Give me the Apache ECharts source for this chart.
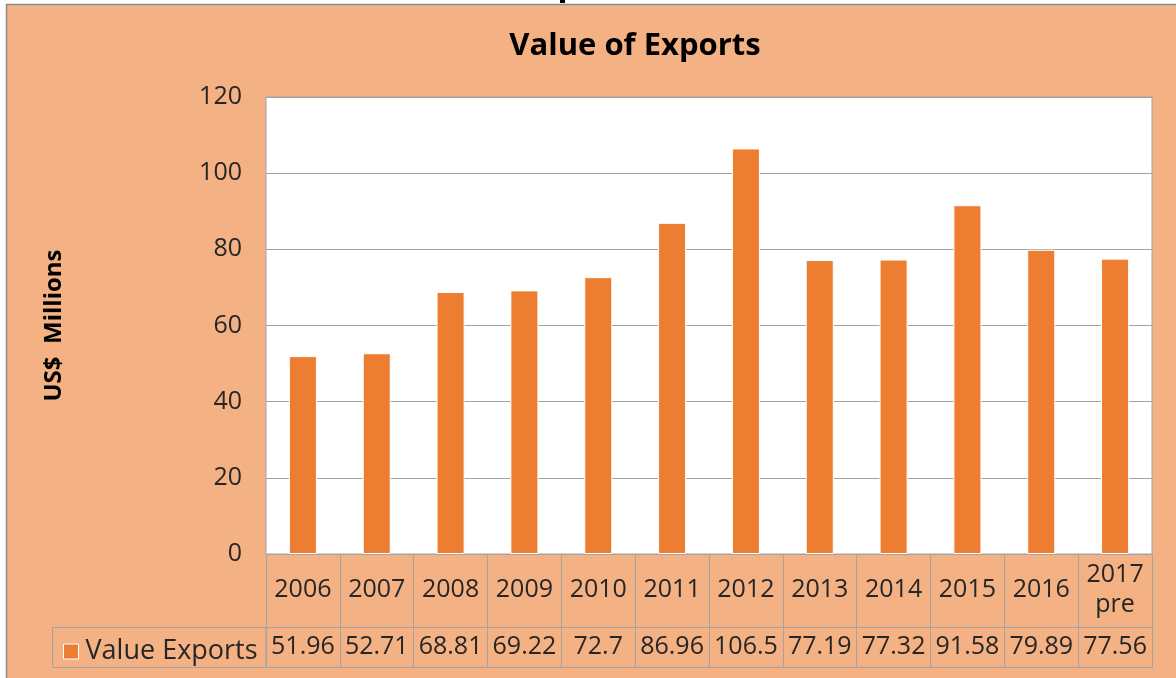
<!DOCTYPE html>
<html>
<head>
<meta charset="utf-8">
<script src="https://cdn.jsdelivr.net/npm/echarts@6/dist/echarts.min.js"></script>
<style>
html,body{margin:0;padding:0;background:#fff;}
#chart{width:1176px;height:678px;}
</style>
</head>
<body>
<div id="chart"></div>
<script>
var categories = ['2006','2007','2008','2009','2010','2011','2012','2013','2014','2015','2016','2017\npre'];
var values = [51.96, 52.71, 68.81, 69.22, 72.7, 86.96, 106.5, 77.19, 77.32, 91.58, 79.89, 77.56];
var seriesName = 'Value Exports';
var yMin = 0, yMax = 120, yStep = 20;

var FONT = '"Open Sans", "DejaVu Sans", sans-serif';
var GRAY = '#a3a3a3';
var TXT = '#262626';
var BAR = '#ED7D31';

var chart = echarts.init(document.getElementById('chart'), null, {renderer: 'canvas'});
var gridLeft = 266, gridTop = 97, gridRight = 24, gridBottom = 124;
var option = {
  backgroundColor: '#F4B183',
  animation: false,
  title: {
    text: 'Value of Exports',
    left: 630,
    textAlign: 'center',
    top: 26,
    textStyle: {fontFamily: FONT, fontSize: 31, fontWeight: 'bold', color: '#000'}
  },
  legend: {
    data: [seriesName],
    left: 58,
    top: 633,
    itemWidth: 15,
    itemHeight: 15,
    itemGap: 0,
    icon: 'rect',
    itemStyle: {color: BAR, borderColor: '#fff', borderWidth: 1},
    textStyle: {fontFamily: FONT, fontSize: 27, color: TXT, padding: [0,0,0,2]}
  },
  grid: {
    left: gridLeft, top: gridTop, right: gridRight, bottom: gridBottom,
    show: true, backgroundColor: '#fff', borderColor: GRAY, borderWidth: 1
  },
  xAxis: [
    {
      type: 'category', data: categories, position: 'bottom',
      axisLine: {show: true, lineStyle: {color: GRAY, width: 1}},
      axisTick: {show: true, length: 73, interval: 0, alignWithLabel: false, lineStyle: {color: GRAY, width: 1}},
      axisLabel: {interval: 0, margin: 36, verticalAlign: 'middle', fontFamily: FONT, fontSize: 25, lineHeight: 30, color: TXT}
    },
    {
      type: 'category', data: categories, position: 'bottom', offset: 73,
      axisLine: {show: true, lineStyle: {color: GRAY, width: 1}},
      axisTick: {show: true, length: 40, interval: 0, alignWithLabel: false, lineStyle: {color: GRAY, width: 1}},
      axisLabel: {interval: 0, margin: 20, verticalAlign: 'middle', fontFamily: FONT, fontSize: 25, color: TXT,
        formatter: function (v, i) { return String(values[i]); }}
    },
    {
      type: 'category', data: categories, position: 'bottom', offset: 113,
      axisLine: {show: true, lineStyle: {color: GRAY, width: 1}},
      axisTick: {show: false},
      axisLabel: {show: false}
    }
  ],
  yAxis: {
    type: 'value', min: yMin, max: yMax, interval: yStep,
    name: 'US$  Millions',
    nameLocation: 'middle',
    nameRotate: 90,
    nameGap: 200,
    nameTextStyle: {fontFamily: FONT, fontSize: 24, fontWeight: 'bold', color: '#000'},
    axisLine: {show: false},
    axisTick: {show: false},
    axisLabel: {margin: 24, fontFamily: FONT, fontSize: 25, color: TXT},
    splitLine: {show: true, lineStyle: {color: GRAY, width: 1}}
  },
  series: [{
    name: seriesName,
    type: 'bar',
    xAxisIndex: 0,
    data: values,
    barWidth: '38%',
    itemStyle: {color: BAR, borderColor: '#fff', borderWidth: 1}
  }],
  graphic: [
    {type: 'rect', shape: {x: 0, y: 0, width: 1176, height: 4}, style: {fill: '#fff'}, silent: true},
    {type: 'rect', shape: {x: 0, y: 0, width: 6, height: 678}, style: {fill: '#fff'}, silent: true},
    {type: 'line', shape: {x1: 6, y1: 4.5, x2: 1176, y2: 4.5}, style: {stroke: '#8c8c8c', lineWidth: 1.5}, silent: true},
    {type: 'line', shape: {x1: 6.5, y1: 4, x2: 6.5, y2: 678}, style: {stroke: '#8c8c8c', lineWidth: 1.5}, silent: true},
    {type: 'rect', shape: {x: 560, y: 0, width: 5, height: 3}, style: {fill: '#000'}, silent: true},
    {type: 'rect', shape: {x: 52.5, y: 627.5, width: gridLeft - 52.5, height: 40}, style: {fill: 'none', stroke: GRAY, lineWidth: 1}, silent: true}
  ]
};
chart.setOption(option);
</script>
</body>
</html>
